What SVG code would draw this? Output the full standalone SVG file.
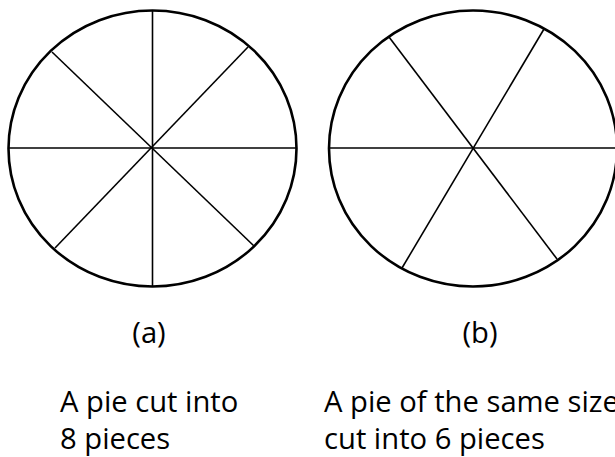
<svg xmlns="http://www.w3.org/2000/svg" width="615" height="457" viewBox="0 0 615 457">
<style>
.rim{fill:none;stroke:#000;stroke-width:2.6}
.cut{stroke:#000;stroke-width:1.6;fill:none}
.lbl{font-family:"Open Sans","Liberation Sans",sans-serif;font-size:29.2px;fill:#000}
</style>
<rect width="615" height="457" fill="#fff"/>
<g id="pie-a">
<ellipse class="rim" cx="152.5" cy="148.5" rx="144" ry="138"/>
<line class="cut" x1="152.5" y1="10.5" x2="152.5" y2="286.5"/>
<line class="cut" x1="8.5" y1="148" x2="296.5" y2="148"/>
<line class="cut" x1="52" y1="52" x2="254" y2="246"/>
<line class="cut" x1="248" y1="47" x2="55" y2="248"/>
</g>
<g id="pie-b">
<ellipse class="rim" cx="473" cy="148.5" rx="144" ry="138"/>
<line class="cut" x1="329" y1="148" x2="615" y2="148"/>
<line class="cut" x1="389" y1="37" x2="557" y2="259"/>
<line class="cut" x1="544" y1="29" x2="402" y2="268"/>
</g>
<g id="label-a">
<text class="lbl" x="149" y="343" text-anchor="middle">(a)</text>
<text class="lbl" x="60" y="412">A pie cut into</text>
<text class="lbl" x="60" y="449">8 pieces</text>
</g>
<g id="label-b">
<text class="lbl" x="480" y="343" text-anchor="middle">(b)</text>
<text class="lbl" x="324" y="412">A pie of the same size</text>
<text class="lbl" x="324" y="449">cut into 6 pieces</text>
</g>
</svg>
